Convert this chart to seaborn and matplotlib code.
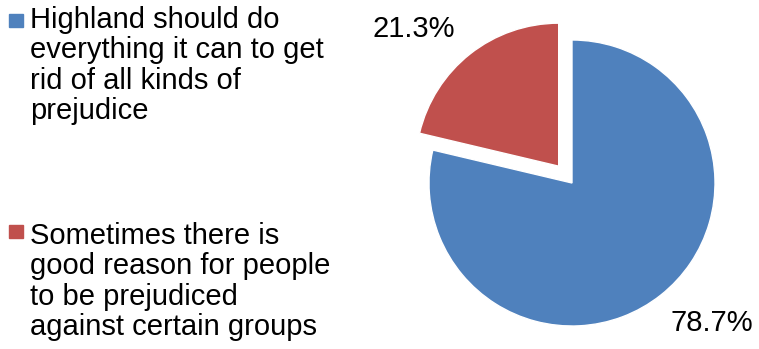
import matplotlib
matplotlib.use("Agg")
import matplotlib.pyplot as plt
import seaborn as sns
from matplotlib.patches import Rectangle

sns.set_theme(style="white")
plt.rcParams['font.family'] = ['Liberation Sans', 'DejaVu Sans']

categories = ["Highland should do\neverything it can to get\nrid of all kinds of\nprejudice",
              "Sometimes there is\ngood reason for people\nto be prejudiced\nagainst certain groups"]
values = [78.7, 21.3]
colors = ["#4F81BD", "#C0504D"]

W, H = 759, 349
fig = plt.figure(figsize=(W / 100, H / 100), dpi=100)

cx, cy, r = 572, 183, 143
half = 1.2 * r
ax = fig.add_axes([(cx - half) / W, (H - cy - half) / H, 2 * half / W, 2 * half / H])
wedges, texts, autotexts = ax.pie(values, colors=colors, startangle=90, counterclock=False,
                                  explode=[0, 0.15], autopct='%1.1f%%', radius=1,
                                  textprops=dict(fontsize=21, color='black'))
ax.set_xlim(-1.2, 1.2)
ax.set_ylim(-1.2, 1.2)
ax.set_aspect('equal')
ax.axis('off')

label_pos = [((712 - cx) / r, (cy - 323) / r), ((414 - cx) / r, (cy - 29) / r)]
for t, p in zip(autotexts, label_pos):
    t.set_position(p)
    t.set_ha('center'); t.set_va('center')
    t.set_clip_on(False)

# legend
sq_tops = [14, 225]
text_tops = [5.5, 221.5]
for lab, col, st, tt in zip(categories, colors, sq_tops, text_tops):
    fig.patches.append(Rectangle((9 / W, 1 - (st + 13) / H), 14 / W, 13 / H,
                                 transform=fig.transFigure, color=col))
    fig.text(30 / W, 1 - tt / H, lab, fontsize=21, va='top', ha='left',
             linespacing=1.12, color='black')

fig.savefig("out.png", dpi=100)
